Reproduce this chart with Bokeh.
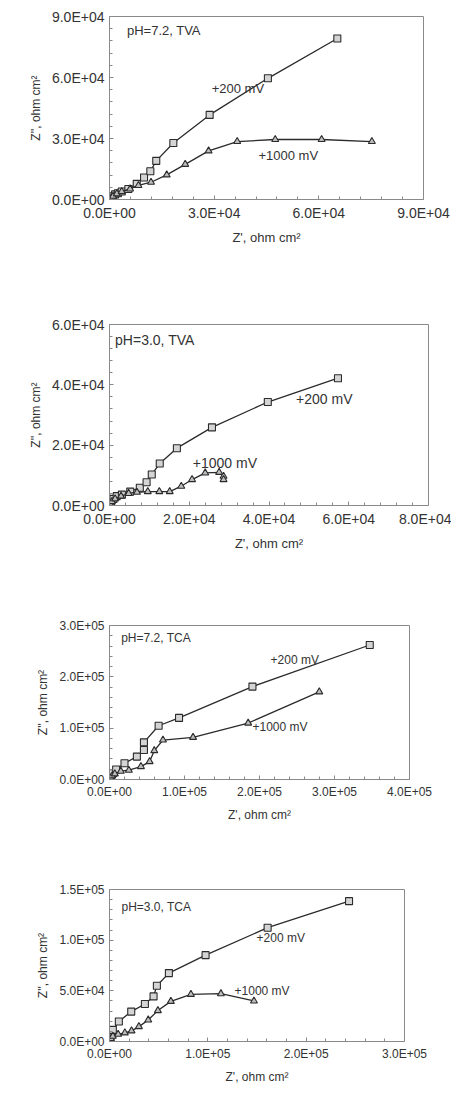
from bokeh.plotting import figure
from bokeh.layouts import column
from bokeh.models import FixedTicker, Label
from bokeh.embed import file_html
from bokeh.resources import INLINE

# ---------------- data (Z' , Z'' in ohm cm^2) ----------------
# Panel 1: pH=7.2, TVA
p1_200_x = [200, 500, 1000, 1600, 2400, 3500, 5400, 7800, 9900, 11700, 13400, 18300, 28700, 45400, 65300]
p1_200_y = [300, 800, 1600, 2500, 3100, 3900, 5200, 7700, 10800, 13900, 19000, 27800, 41600, 59600, 79200]
p1_1000_x = [200, 500, 1000, 2100, 3500, 5900, 8300, 11900, 16400, 21700, 28400, 36600, 47500, 60800, 75200]
p1_1000_y = [300, 800, 1600, 2800, 3900, 5200, 6900, 8500, 12100, 17300, 23900, 28500, 29500, 29500, 28500]

# Panel 2: pH=3.0, TVA
p2_200_x = [100, 400, 1000, 1800, 3100, 5200, 7600, 9300, 10600, 12600, 16900, 25700, 39700, 57300]
p2_200_y = [400, 1300, 2200, 3100, 3600, 4600, 5900, 7700, 10300, 13900, 19000, 25900, 34300, 42200]
p2_1000_x = [200, 600, 1400, 2900, 4800, 6900, 9600, 12500, 15100, 18000, 20700, 24000, 27500, 28600, 28600]
p2_1000_y = [400, 1300, 2200, 3100, 4000, 4400, 4600, 4600, 4600, 6400, 8600, 10800, 11000, 9700, 8600]

# Panel 3: pH=7.2, TCA
p3_200_x = [400, 1300, 2200, 4500, 8900, 20000, 36500, 45900, 45900, 65500, 92700, 190600, 347000]
p3_200_y = [2600, 5800, 9000, 12300, 19400, 31700, 44600, 57500, 72400, 104700, 120000, 181000, 262000]
p3_1000_x = [1300, 3600, 7100, 15100, 25800, 41900, 53500, 59700, 71300, 111400, 184900, 279700]
p3_1000_y = [3200, 7100, 11000, 16200, 18100, 25200, 34900, 56200, 76900, 82100, 109900, 170700]

# Panel 4: pH=3.0, TCA
p4_200_x = [300, 1000, 2000, 3400, 9500, 22100, 36000, 44800, 48200, 60400, 97700, 160800, 243600]
p4_200_y = [1600, 4300, 7500, 11500, 19700, 29500, 37000, 44500, 55000, 67500, 85200, 112300, 138500]
p4_1000_x = [300, 1400, 3400, 8800, 15600, 22400, 29900, 39400, 49200, 62400, 82800, 113300, 146900]
p4_1000_y = [1000, 2900, 5200, 7200, 8500, 10500, 14700, 21300, 30500, 39600, 46500, 47200, 40000]

# axis ticks and labels
p1_xticks = [0, 30000, 60000, 90000]
p1_xlabels = ["0.0E+00", "3.0E+04", "6.0E+04", "9.0E+04"]
p1_yticks = [0, 30000, 60000, 90000]
p1_ylabels = ["0.0E+00", "3.0E+04", "6.0E+04", "9.0E+04"]

p2_xticks = [0, 20000, 40000, 60000, 80000]
p2_xlabels = ["0.0E+00", "2.0E+04", "4.0E+04", "6.0E+04", "8.0E+04"]
p2_yticks = [0, 20000, 40000, 60000]
p2_ylabels = ["0.0E+00", "2.0E+04", "4.0E+04", "6.0E+04"]

p3_xticks = [0, 100000, 200000, 300000, 400000]
p3_xlabels = ["0.0E+00", "1.0E+05", "2.0E+05", "3.0E+05", "4.0E+05"]
p3_yticks = [0, 100000, 200000, 300000]
p3_ylabels = ["0.0E+00", "1.0E+05", "2.0E+05", "3.0E+05"]

p4_xticks = [0, 100000, 200000, 300000]
p4_xlabels = ["0.0E+00", "1.0E+05", "2.0E+05", "3.0E+05"]
p4_yticks = [0, 50000, 100000, 150000]
p4_ylabels = ["0.0E+00", "5.0E+04", "1.0E+05", "1.5E+05"]

titles = ["pH=7.2, TVA", "pH=3.0, TVA", "pH=7.2, TCA", "pH=3.0, TCA"]
series_names = ["+200 mV", "+1000 mV"]

FONT = "Liberation Sans"
INK = "#2b2b2b"
GREY = "#8a8a8a"


def minor(ticks, n=5):
    out = []
    for a, b in zip(ticks[:-1], ticks[1:]):
        step = (b - a) / n
        out += [a + step * i for i in range(1, n)]
    return out


def panel(fw, fh, bl, br, bt, bb, xt, xl, yt, yl, s200, s1000, title, tpos, l200, l1000,
          fs_tick, fs_text, fs_xtitle, fs_ytitle):
    p = figure(frame_width=fw, frame_height=fh, min_border_left=bl, min_border_right=br,
               min_border_top=bt, min_border_bottom=bb,
               x_range=(xt[0], xt[-1]), y_range=(yt[0], yt[-1]),
               output_backend="svg", toolbar_location=None, tools="")
    p.grid.visible = False
    p.outline_line_color = GREY
    p.outline_line_width = 1
    p.background_fill_color = "white"
    p.border_fill_color = "white"
    p.xaxis.ticker = FixedTicker(ticks=xt, minor_ticks=minor(xt))
    p.yaxis.ticker = FixedTicker(ticks=yt, minor_ticks=minor(yt))
    p.xaxis.major_label_overrides = {t: s for t, s in zip(xt, xl)}
    p.yaxis.major_label_overrides = {t: s for t, s in zip(yt, yl)}
    for ax, fs_title in ((p.xaxis[0], fs_xtitle), (p.yaxis[0], fs_ytitle)):
        ax.axis_line_color = GREY
        ax.major_tick_line_color = GREY
        ax.minor_tick_line_color = GREY
        ax.major_tick_in = 4
        ax.major_tick_out = 0
        ax.minor_tick_in = 3
        ax.minor_tick_out = 0
        ax.major_label_text_font = FONT
        ax.major_label_text_font_size = f"{fs_tick}px"
        ax.major_label_text_color = "#333333"
        ax.axis_label_text_font = FONT
        ax.axis_label_text_font_size = f"{fs_title}px"
        ax.axis_label_text_font_style = "normal"
        ax.axis_label_text_color = "#333333"
        ax.major_label_standoff = 5
        ax.axis_label_standoff = 6
    p.xaxis.axis_label = "Z', ohm cm²"
    p.yaxis.axis_label = "Z'', ohm cm²"

    x2, y2 = s200
    x1, y1 = s1000
    p.line(x2, y2, line_color=INK, line_width=1.3)
    p.scatter(x2, y2, marker="square", size=7, fill_color="#d4d4d4", line_color=INK, line_width=1.1)
    p.line(x1, y1, line_color=INK, line_width=1.3)
    p.scatter(x1, y1, marker="triangle", size=7, fill_color="#bdbdbd", line_color=INK, line_width=1.1)

    p.add_layout(Label(x=tpos[0], y=tpos[1], text=title, text_font=FONT,
                       text_font_size=f"{fs_text}px", text_color="#333333",
                       text_baseline="middle"))
    p.add_layout(Label(x=l200[0], y=l200[1], text=series_names[0], text_font=FONT,
                       text_font_size=f"{fs_text}px", text_color="#333333",
                       text_baseline="middle"))
    p.add_layout(Label(x=l1000[0], y=l1000[1], text=series_names[1], text_font=FONT,
                       text_font_size=f"{fs_text}px", text_color="#333333",
                       text_baseline="middle"))
    return p


f1 = panel(314, 183, 103, 34, 16, 63, p1_xticks, p1_xlabels, p1_yticks, p1_ylabels,
           (p1_200_x, p1_200_y), (p1_1000_x, p1_1000_y), titles[0],
           (5000, 83000), (29300, 54500), (42700, 21600), 14, 13, 13, 12)
f2 = panel(319, 181, 103, 29, 62, 67, p2_xticks, p2_xlabels, p2_yticks, p2_ylabels,
           (p2_200_x, p2_200_y), (p2_1000_x, p2_1000_y), titles[1],
           (1400, 54800), (46800, 35400), (20900, 14100), 14, 14, 13, 12)
f3 = panel(300, 154, 105, 46, 53, 63, p3_xticks, p3_xlabels, p3_yticks, p3_ylabels,
           (p3_200_x, p3_200_y), (p3_1000_x, p3_1000_y), titles[2],
           (15600, 275000), (214700, 232700), (190600, 101500), 12, 12, 12, 12)
f4 = panel(295, 152, 109, 47, 47, 40, p4_xticks, p4_xlabels, p4_yticks, p4_ylabels,
           (p4_200_x, p4_200_y), (p4_1000_x, p4_1000_y), titles[3],
           (12200, 133000), (149600, 101900), (127200, 50100), 12, 12, 12, 12)

layout = column(f1, f2, f3, f4, spacing=0)
open("out.html", "w").write(file_html(layout, INLINE))
